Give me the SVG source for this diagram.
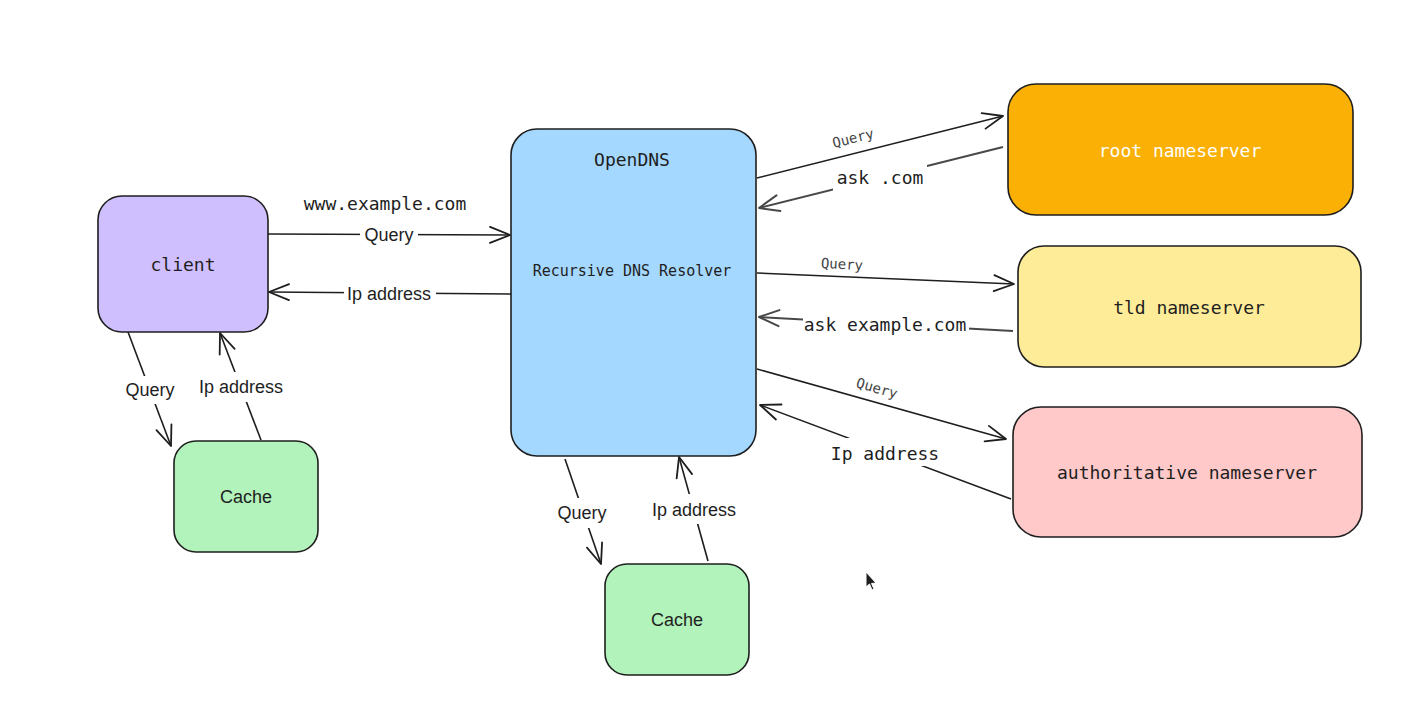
<svg xmlns="http://www.w3.org/2000/svg" width="1427" height="704" viewBox="0 0 1427 704">
<style>
.box{stroke:#1e1e1e;stroke-width:1.6}
.mono{font-family:"DejaVu Sans Mono","Liberation Mono",monospace;fill:#1e1e1e;text-anchor:middle;dominant-baseline:central}
.sans{font-family:"Liberation Sans",Arial,sans-serif;font-size:18px;fill:#1e1e1e;text-anchor:middle;dominant-baseline:central}
.gap{fill:#ffffff}
.ln{fill:none;stroke:#1e1e1e;stroke-width:1.6;marker-end:url(#arr)}
.ln2{fill:none;stroke:#484848;stroke-width:2;marker-end:url(#arr2)}
.small{font-size:14px;fill:#444}
</style>
<defs>
<marker id="arr" viewBox="-22 -11 24 22" refX="0" refY="0" markerWidth="24" markerHeight="22" markerUnits="userSpaceOnUse" orient="auto">
<path d="M-20,-8 L0,0 L-20,8" fill="none" stroke="#1e1e1e" stroke-width="1.8" stroke-linecap="round" stroke-linejoin="round"/>
</marker>
<marker id="arr2" viewBox="-22 -11 24 22" refX="0" refY="0" markerWidth="24" markerHeight="22" markerUnits="userSpaceOnUse" orient="auto">
<path d="M-20,-8 L0,0 L-20,8" fill="none" stroke="#484848" stroke-width="2" stroke-linecap="round" stroke-linejoin="round"/>
</marker>
</defs>
<rect width="1427" height="704" fill="#ffffff"/>

<g id="connectors">
<path class="ln" d="M268,234 L510,235"/>
<rect class="gap" x="360" y="224" width="58" height="22"/>
<text class="sans" x="389" y="235">Query</text>
<text class="mono" x="385" y="203" font-size="18">www.example.com</text>

<path class="ln" d="M511,294 L269,292"/>
<rect class="gap" x="344" y="282" width="92" height="22"/>
<text class="sans" x="389" y="294">Ip address</text>

<path class="ln" d="M128,332 L171,446"/>
<rect class="gap" x="124" y="376" width="52" height="28"/>
<text class="sans" x="150" y="390">Query</text>

<path class="ln" d="M261,440 L220,333"/>
<rect class="gap" x="197" y="372" width="88" height="30"/>
<text class="sans" x="241" y="387">Ip address</text>

<path class="ln" d="M565,459 L601,564"/>
<rect class="gap" x="555" y="498" width="54" height="30"/>
<text class="sans" x="582" y="513">Query</text>

<path class="ln" d="M708,561 L679,457"/>
<rect class="gap" x="650" y="494" width="88" height="30"/>
<text class="sans" x="694" y="510">Ip address</text>

<path class="ln" d="M757,178 L1003,116"/>
<text class="mono small" x="853" y="138" transform="rotate(-14 853 138)">Query</text>

<path class="ln2" d="M1003,147 L759,208"/>
<rect class="gap" x="833" y="165" width="94" height="26"/>
<text class="mono" x="880" y="177" font-size="18">ask .com</text>

<path class="ln" d="M757,273 L1014,284"/>
<text class="mono small" x="842" y="264" transform="rotate(3 842 264)">Query</text>

<path class="ln2" d="M1013,331 L759,317"/>
<rect class="gap" x="803" y="312" width="166" height="26"/>
<text class="mono" x="885" y="324" font-size="18">ask example.com</text>

<path class="ln" d="M757,369 L1006,439"/>
<text class="mono small" x="877" y="388" transform="rotate(16 877 388)">Query</text>

<path class="ln" d="M1011,499 L760,405"/>
<rect class="gap" x="830" y="438" width="110" height="28"/>
<text class="mono" x="885" y="453" font-size="18">Ip address</text>
</g>

<g id="client">
<rect class="box" x="98" y="196" width="170" height="136" rx="24" fill="#d0bfff"/>
<text class="mono" x="183" y="264" font-size="18">client</text>
</g>
<g id="cache-client">
<rect class="box" x="174" y="441" width="144" height="111" rx="22" fill="#b2f2bb"/>
<text class="sans" x="246" y="497">Cache</text>
</g>
<g id="opendns">
<rect class="box" x="511" y="129" width="245" height="327" rx="26" fill="#a5d8ff"/>
<text class="mono" x="632" y="159" font-size="18">OpenDNS</text>
<text class="mono" x="632" y="271" font-size="15">Recursive DNS Resolver</text>
</g>
<g id="cache-resolver">
<rect class="box" x="605" y="564" width="144" height="111" rx="22" fill="#b2f2bb"/>
<text class="sans" x="677" y="620">Cache</text>
</g>
<g id="root">
<rect class="box" x="1008" y="84" width="345" height="131" rx="28" fill="#fab005"/>
<text class="mono" x="1180" y="150" font-size="18" style="fill:#ffffff">root nameserver</text>
</g>
<g id="tld">
<rect class="box" x="1018" y="246" width="343" height="121" rx="26" fill="#ffec99"/>
<text class="mono" x="1189" y="307" font-size="18">tld nameserver</text>
</g>
<g id="authoritative">
<rect class="box" x="1013" y="407" width="349" height="130" rx="28" fill="#ffc9c9"/>
<text class="mono" x="1187" y="472" font-size="18">authoritative nameserver</text>
</g>

<path d="M866,572 L866,587 L869.5,584 L872,590 L874,589 L871.5,583.5 L876,583 Z" fill="#1e1e1e" stroke="#ffffff" stroke-width="1"/>
</svg>
